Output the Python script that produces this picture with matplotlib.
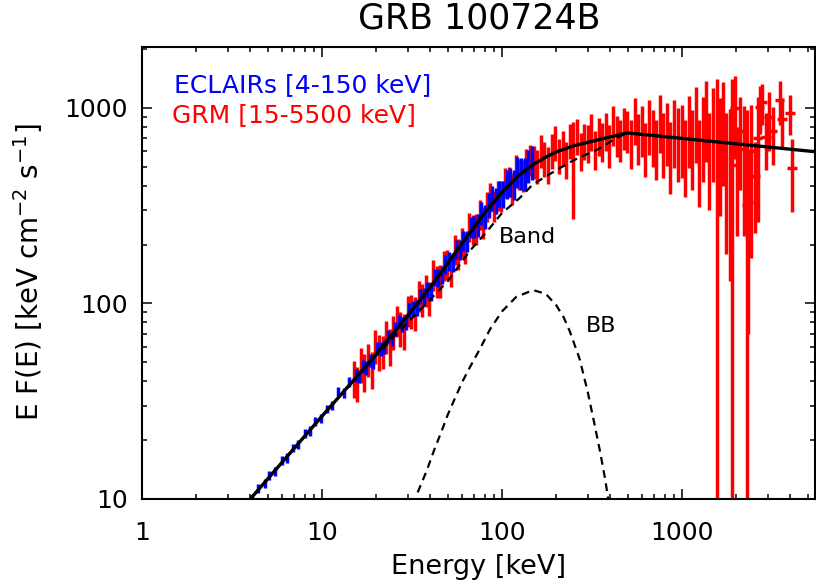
import numpy as np
import matplotlib
matplotlib.use("Agg")
import matplotlib.pyplot as plt
from matplotlib import ticker

# ---- GRM data points (keV, E F(E), 1-sigma) ----
grm_e = [15.0, 15.7, 16.4, 17.2, 18.0, 18.9, 19.8, 20.7, 21.7, 22.7,
         23.8, 24.9, 26.1, 27.3, 28.6, 29.9, 31.3, 32.8, 34.4, 36.0,
         37.7, 39.4, 41.3, 43.3, 45.3, 47.4, 49.7, 52.0, 54.5, 57.0,
         59.7, 62.5, 65.5, 68.6, 71.8, 75.2, 78.7, 82.4, 86.3, 90.4,
         94.6, 99.1, 103.8, 108.7, 113.8, 119.1, 124.8, 130.6, 136.8, 143.2,
         150, 157, 164, 172, 180, 189, 198, 207, 217, 227,
         238, 249, 261, 273, 286, 299, 313, 328, 344, 360,
         377, 394, 413, 433, 453, 474, 497, 520, 545, 570,
         597, 625, 655, 686, 718, 752, 787, 824, 863, 904,
         946, 1000, 1045, 1090, 1140, 1190, 1245, 1300, 1360, 1420,
         1485, 1560, 1620, 1690, 1760, 1850, 1890, 1970, 2010, 2100,
         2200, 2300, 2330, 2420, 2560, 2640, 2710, 2800, 2940, 3050,
         3200, 3500, 3600, 3990, 4090]
grm_f = [42, 39.5, 49, 45.4, 52, 46.6, 61, 57, 57, 68,
         61, 72, 82, 75, 73, 92.5, 92, 90, 110, 105,
         118, 107, 141, 131, 132, 158, 160, 149, 190, 181,
         207, 196, 247, 240, 244, 288, 262, 317, 355, 320,
         361, 357, 419, 424, 392, 486, 466, 457, 519, 546,
         536, 507, 610, 558, 518, 614, 672, 577, 634, 551,
         688, 560, 724, 610, 687, 668, 767, 621, 729, 682,
         773, 655, 832, 734, 699, 803, 777, 679, 883, 718,
         789, 642, 835, 738, 649, 877, 687, 784, 604, 793,
         706, 740, 610, 820, 680, 900, 590, 780, 950, 620,
         840, 300, 700, 880, 560, 560, 50, 1000, 511, 760,
         620, 320, 330, 600, 449, 700, 1012, 1070, 711, 900,
         760, 1100, 880, 943, 493]
grm_err = [9, 8, 10, 10, 10, 10, 12, 12, 11, 13,
           13, 14, 15, 15, 15, 17, 18, 18, 20, 20,
           22, 21, 25, 24, 25, 28, 28, 28, 33, 32,
           36, 36, 42, 42, 44, 50, 48, 55, 60, 58,
           63, 64, 72, 74, 72, 85, 84, 85, 95, 100,
           105, 100, 120, 115, 110, 125, 135, 120, 130, 120,
           140, 290, 150, 135, 145, 145, 165, 140, 160, 155,
           170, 160, 190, 175, 170, 195, 190, 190, 240, 210,
           230, 200, 260, 240, 220, 290, 250, 280, 240, 300,
           290, 300, 260, 330, 300, 380, 280, 360, 420, 320,
           420, 1100, 420, 480, 380, 430, 1350, 450, 290, 380,
           400, 660, 260, 430, 220, 440, 280, 250, 230, 300,
           250, 280, 250, 220, 200]

# ---- ECLAIRs data points ----
ecl_e = [4.1, 4.4, 4.8, 5.1, 5.5, 6.0, 6.4, 6.9, 7.4, 8.0,
         8.6, 9.2, 9.9, 10.6, 11.4, 12.3, 13.2, 14.2, 15.4, 16.1,
         16.8, 17.6, 18.4, 19.3, 20.2, 21.2, 22.2, 23.3, 24.4, 25.5,
         26.7, 27.9, 29.2, 30.6, 32.1, 33.6, 35.2, 36.8, 38.5, 40.3,
         42.3, 44.3, 46.3, 48.5, 50.8, 53.2, 55.7, 58.3, 61.1, 64.0,
         67.0, 70.2, 73.5, 76.9, 80.5, 84.3, 88.3, 92.5, 96.8, 101.4,
         106.2, 111.2, 116.4, 121.9, 127.6, 133.7, 140.0, 146.6]
ecl_f = [10.0, 11.3, 12.0, 13.2, 13.8, 15.8, 16.2, 18.3, 19.0, 21.6,
         22.3, 25.0, 25.8, 28.9, 30.1, 35.5, 35.0, 39.5, 43.0, 42.3,
         47.9, 46.9, 51.2, 50.4, 59.1, 58.8, 59.9, 67.8, 65.8, 74.2,
         81.1, 78.4, 80.3, 92.6, 94.9, 95.0, 109, 109, 118, 115,
         137, 136, 141, 159, 165, 163, 190, 189, 211, 209,
         246, 249, 253, 291, 278, 320, 348, 338, 368, 365,
         412, 421, 408, 473, 468, 464, 512, 534]
ecl_err = [0.5, 0.6, 0.6, 0.7, 0.7, 0.8, 0.9, 0.9, 1.0, 1.1,
           1.2, 1.3, 1.4, 1.5, 1.6, 2.0, 2.0, 2.3, 3.2, 3.3,
           3.6, 3.7, 4.0, 4.1, 4.6, 4.7, 4.9, 5.4, 5.5, 6.1,
           6.6, 6.6, 7.0, 8.1, 8.5, 8.8, 10, 10.3, 11.3, 11.5,
           13.5, 14, 15, 17, 18, 19, 21, 22, 25, 26,
           30, 32, 34, 39, 39, 46, 51, 51, 57, 58,
           68, 71, 71, 85, 86, 88, 100, 108]

# ---- model curves ----
tot_e = [4.0, 10, 15, 20, 27, 35, 45, 55, 66, 80, 100, 125, 150, 175,
         200, 250, 350, 495, 5500]
tot_f = [10, 26.5, 40.5, 55, 77, 104, 140, 182, 228, 290, 370, 455, 515, 560,
         595, 640, 690, 745, 597]
band_e = [4.0, 10, 20, 30, 40, 50, 66, 83, 100, 125, 149, 163, 200, 250,
          338, 420, 495]
band_f = [10, 26.5, 54, 80, 105, 130, 185, 235, 290, 345, 408, 428, 480, 540,
          612, 690, 745]
bb_e = [34, 38, 42, 46, 50, 55, 60, 67, 75, 86, 100, 120, 149, 175,
        200, 220, 238, 270, 300, 330, 350, 375, 390]
bb_f = [10.8, 13.8, 17.8, 22, 27, 33, 39.5, 48, 58, 74, 91, 108, 117, 112,
        98, 85, 72, 52, 35, 23, 17.6, 12.5, 9.8]


def draw_points(ax, e, f, err, color):
    e = np.asarray(e, float)
    f = np.asarray(f, float)
    err = np.asarray(err, float)
    lo = np.minimum(err, f - 1.0)   # bars that run off the log axis
    xw = np.where(e > 1900, 0.06, 0.012) * e
    ax.errorbar(e, f, yerr=[lo, err], xerr=xw, fmt="none",
                ecolor=color, elinewidth=2.5, capsize=0)


fig = plt.figure(figsize=(8.16, 5.87), dpi=100)
ax = fig.add_axes([0.174, 0.150, 0.8251, 0.770])
ax.set_xscale("log")
ax.set_yscale("log")

draw_points(ax, grm_e, grm_f, grm_err, "red")
draw_points(ax, ecl_e, ecl_f, ecl_err, "blue")

ax.plot(band_e, band_f, color="black", lw=1.6, ls=(0, (3.5, 2.5)))
ax.plot(bb_e, bb_f, color="black", lw=1.6, ls=(0, (3.5, 2.5)))
ax.plot(tot_e, tot_f, color="black", lw=2.4)

ax.set_xlim(1, 5500)
ax.set_ylim(10, 2050)

ax.text(139, 219, "Band", fontsize=16, ha="center", va="center")
ax.text(355, 77, "BB", fontsize=16, ha="center", va="center")
ax.text(0.048, 0.916, "ECLAIRs [4-150 keV]", color="blue", fontsize=18,
        transform=ax.transAxes, va="center")
ax.text(0.044, 0.850, "GRM [15-5500 keV]", color="red", fontsize=18,
        transform=ax.transAxes, va="center")

fmt = ticker.FuncFormatter(lambda v, _: "%g" % v)
ax.xaxis.set_major_formatter(fmt)
ax.yaxis.set_major_formatter(fmt)
ax.xaxis.set_minor_formatter(ticker.NullFormatter())
ax.yaxis.set_minor_formatter(ticker.NullFormatter())
ax.tick_params(which="both", direction="in", top=True, right=True, width=1.1)
ax.tick_params(which="major", length=7, labelsize=18)
ax.tick_params(which="minor", length=3.5)
ax.tick_params(axis="x", which="major", pad=16)
ax.tick_params(axis="y", which="major", pad=10)
for s in ax.spines.values():
    s.set_linewidth(1.5)

ax.set_xlabel("Energy [keV]", fontsize=19.5, labelpad=6)
fig.text(0.034, 0.537, r"E F(E) [keV cm$^{-2}$ s$^{-1}$]", fontsize=20,
         rotation=90, ha="center", va="center")
fig.text(0.587, 0.968, "GRB 100724B", fontsize=25, ha="center", va="center")

fig.savefig("out.png", dpi=100)
